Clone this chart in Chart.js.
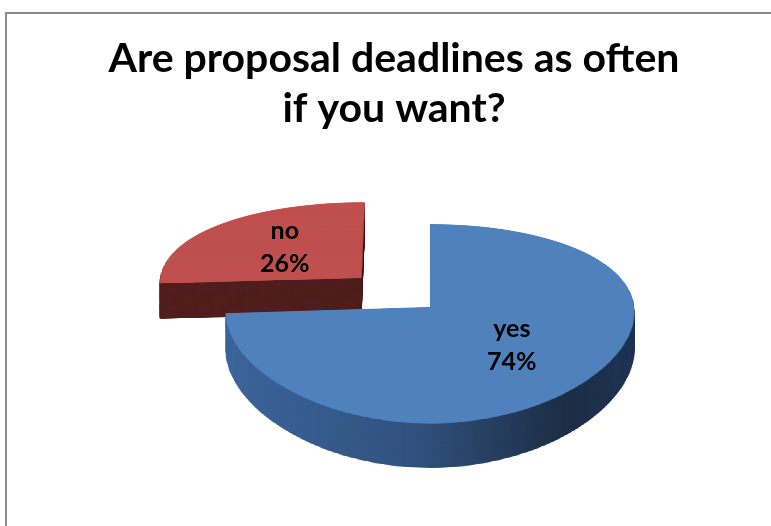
<!DOCTYPE html>
<html>
<head>
<meta charset="utf-8">
<script src="https://cdn.jsdelivr.net/npm/chart.js@4"></script>
<style>
  html, body { margin: 0; padding: 0; background: #fff; overflow: hidden; }
  #frame {
    position: absolute; left: 5px; top: 12px;
    width: 774px; height: 520px;
    border-left: 2px solid #8c8c8c; border-top: 2px solid #8c8c8c;
  }
  canvas { display: block; }
</style>
</head>
<body>
<div id="frame"><canvas id="ChartPie" width="774" height="520"></canvas></div>
<script>
// data
var labels = ["yes", "no"];
var values = [74, 26];
var topColors = ["#4F81BD", "#C0504D"];
var explode = [0, 0.47]; // fraction of radius
var titleLines = ["Are proposal deadlines as often", "if you want?"];

// perspective of the 3d pie, in page px
// y = (a*v + b + h) / (1 - c*v), x = x0 + u * k / (1 - cx*v)
var persp = { x0: 430, a: 45.8, b: 307, c: 0.166, cx: 0.05, k: 204 };
var pieDepth = 37;
var offX = 7, offY = 14; // canvas position in page

// side colour of each slice, left to right
function sideFill(ctx, i, cx, R) {
  var g = ctx.createLinearGradient(cx - R, 0, cx + R, 0);
  if (i === 0) {
    g.addColorStop(0, "#3e679d");
    g.addColorStop(0.45, "#325380");
    g.addColorStop(0.82, "#1e2f46");
    g.addColorStop(1, "#213657");
  } else {
    g.addColorStop(0, "#521f1e");
    g.addColorStop(1, "#4b1d1c");
  }
  return g;
}

// one slice seen from above, drawn by its own arc element
function flatSlice(arc, i, side, S, Sc, Rs, eu, ev, cx, cy, R) {
  var cv = document.createElement("canvas");
  cv.width = S;
  cv.height = S;
  var c2 = cv.getContext("2d");
  c2.translate(Sc + eu * Rs, Sc + ev * Rs);
  c2.scale(Rs / R, Rs / R);
  c2.translate(-cx, -cy);
  var fake = Object.create(arc);
  fake.options = Object.assign({}, arc.options, {
    backgroundColor: side ? sideFill(c2, i, cx, R) : arc.options.backgroundColor,
  });
  arc.draw.call(fake, c2);
  return cv;
}

function projX(u, v) {
  return persp.x0 + (u * persp.k) / (1 - persp.cx * v);
}
function projY(v, h) {
  return (persp.a * v + persp.b + h) / (1 - persp.c * v);
}

var pie3d = {
  id: "pie3d",
  beforeDatasetsDraw(chart) {
    var ctx = chart.ctx;
    var arcs = chart.getDatasetMeta(0).data;
    var cx = arcs[0].x;
    var cy = arcs[0].y;
    var R = arcs[0].outerRadius;
    var S = 640, Sc = 320, Rs = 200;

    // exploded slice is at the back, draw it first
    [1, 0].forEach(function (i) {
      var arc = arcs[i];
      var mid = (arc.startAngle + arc.endAngle) / 2;
      var eu = Math.cos(mid) * explode[i];
      var ev = Math.sin(mid) * explode[i];
      var top = flatSlice(arc, i, false, S, Sc, Rs, eu, ev, cx, cy, R);
      var side = flatSlice(arc, i, true, S, Sc, Rs, eu, ev, cx, cy, R);
      var j0 = Math.max(0, Math.floor(Sc + (ev - 1.02) * Rs));
      var j1 = Math.min(S, Math.ceil(Sc + (ev + 1.02) * Rs));
      for (let h = pieDepth; h >= 0; h--) {
        var src = h === 0 ? top : side;
        for (let j = j0; j < j1; j++) {
          var vt = (j - Sc) / Rs;
          var vb = (j + 1 - Sc) / Rs;
          var vm = (vt + vb) / 2;
          var yt = projY(vt, h);
          var yb = projY(vb, h);
          var w = ((S / Rs) * persp.k) / (1 - persp.cx * vm);
          var xl = projX(-Sc / Rs, vm);
          ctx.drawImage(src, 0, j, S, 1, xl - offX, yt - offY, w, yb - yt + 0.6);
        }
      }
    });

    // labels
    var total = values.reduce(function (a, b) { return a + b; }, 0);
    ctx.save();
    ctx.fillStyle = "#000";
    ctx.font = "bold 25px Lato";
    ctx.textAlign = "center";
    ctx.textBaseline = "middle";
    arcs.forEach(function (arc, i) {
      var mid = (arc.startAngle + arc.endAngle) / 2;
      var r = 0.54 + explode[i];
      var u = Math.cos(mid) * r;
      var v = Math.sin(mid) * r;
      var x = projX(u, v) - offX;
      var y = projY(v, 0) - offY;
      ctx.fillText(labels[i], x, y - 16);
      ctx.fillText(Math.round((values[i] / total) * 100) + "%", x, y + 17);
    });
    ctx.restore();
    return false;
  },
};

var config = {
  type: "pie",
  data: {
    labels: labels,
    datasets: [
      {
        data: values,
        backgroundColor: topColors,
        borderWidth: 0,
      },
    ],
  },
  options: {
    responsive: false,
    animation: false,
    events: [],
    plugins: {
      legend: { display: false },
      tooltip: { enabled: false },
      title: {
        display: true,
        text: titleLines,
        color: "#000",
        font: { family: "Lato", size: 41, weight: "bold", lineHeight: 1.22 },
        padding: { top: 20, bottom: 10 },
      },
    },
  },
  plugins: [pie3d],
};

var ChartPie = new Chart(document.getElementById("ChartPie"), config);
</script>
</body>
</html>
